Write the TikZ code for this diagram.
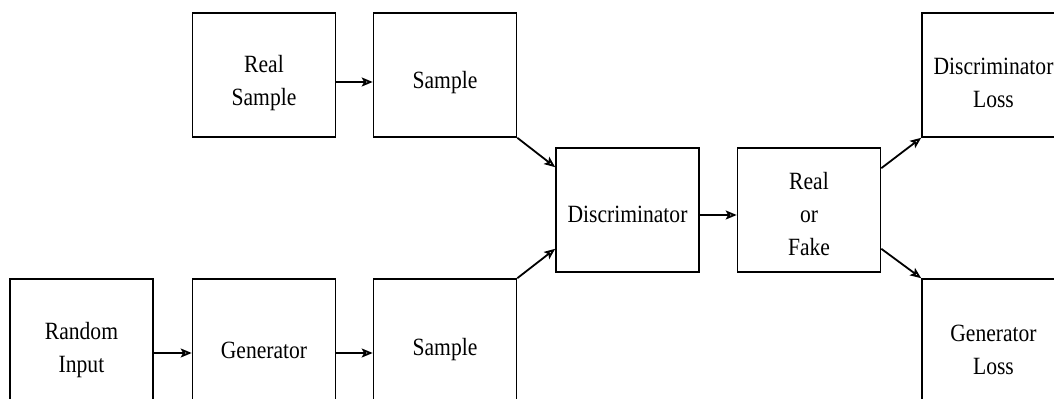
\documentclass[tikz,border=0pt]{standalone}
\usepackage{fontspec}
\setmainfont[FakeStretch=0.87]{Liberation Serif}
\usetikzlibrary{arrows.meta}

\begin{document}
\begin{tikzpicture}
[
    x=0.5pt, y=-0.5pt,
    box/.style={draw, line width=0.8pt, inner sep=0pt,
        minimum width=71.5pt, minimum height=62pt},
    lowbox/.style={box, minimum height=67pt},
    txt/.style={align=center, yshift=-2pt,
        font=\fontsize{12.4}{16.5}\selectfont},
    toptxt/.style={txt, yshift=-2pt},
    arr/.style={line width=0.9pt, -{Stealth[open, length=5.5pt, width=4.5pt, inset=1.2pt]}},
]
\useasboundingbox (0,0) rectangle (1054,399);
\clip (0,0) rectangle (1054,399);
% top row
\node [box, label={[toptxt]center:Real\\Sample}] (realsample) at (264,75) {};
\node [box, label={[toptxt]center:Sample}] (sampletop) at (445,75) {};
\node [box, label={[toptxt]center:Discriminator\\Loss}] (discloss) at (993.5,75) {};
% middle
\node [box, label={[txt]center:Discriminator}] (disc) at (627.5,210) {};
\node [box, label={[txt]center:Real\\or\\Fake}] (realfake) at (809,210) {};
% bottom row
\node [lowbox, label={[txt]center:Random\\Input}] (randominput) at (81.5,346) {};
\node [lowbox, label={[txt]center:Generator}] (generator) at (264,346) {};
\node [lowbox, label={[txt]center:Sample}] (samplebot) at (445,346) {};
\node [lowbox, label={[txt]center:Generator\\Loss}] (genloss) at (993.5,346) {};

\draw [arr] ([yshift=-3.5pt]realsample.east) -- ([yshift=-3.5pt]sampletop.west);
\draw [arr] ([yshift=-3.5pt]randominput.east) -- ([yshift=-3.5pt]generator.west);
\draw [arr] ([yshift=-3.5pt]generator.east) -- ([yshift=-3.5pt]samplebot.west);
\draw [arr] ([yshift=-2.5pt]disc.east) -- ([yshift=-2.5pt]realfake.west);
\draw [arr] (sampletop.south east) -- ([yshift=-10pt]disc.north west);
\draw [arr] (samplebot.north east) -- ([yshift=12pt]disc.south west);
\draw [arr] ([yshift=-10.5pt]realfake.north east) -- (discloss.south west);
\draw [arr] ([yshift=12pt]realfake.south east) -- (genloss.north west);
\end{tikzpicture}
\end{document}
